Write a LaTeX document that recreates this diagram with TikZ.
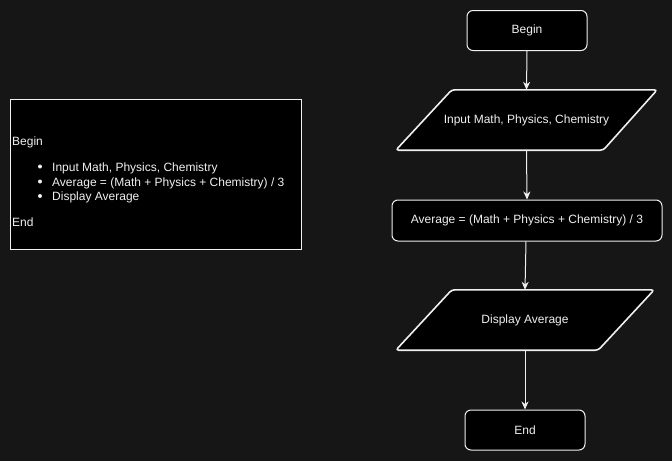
\documentclass[tikz,border=0pt]{standalone}
\usepackage{fontspec}
\setmainfont{Liberation Sans}
\usetikzlibrary{arrows.meta}
\definecolor{bg}{HTML}{161616}
\definecolor{ln}{HTML}{F0F0F0}
\tikzset{
  box/.style={draw=ln, fill=black, line width=1pt, rounded corners=6pt, text=ln, font=\fontsize{12}{14}\selectfont, inner sep=0pt},
  ghost/.style={draw=none, text=ln, font=\fontsize{12}{14}\selectfont, inner sep=0pt},
  para/.style={draw=ln, fill=black, line width=1.6pt, rounded corners=3pt},
  conn/.style={draw=ln, line width=1pt, -{Stealth[length=8pt,width=7pt,inset=2.5pt]}},
  txt/.style={text=ln, font=\fontsize{12}{14}\selectfont, inner sep=0pt, anchor=base west},
  bul/.style={fill=ln, draw=none, circle, inner sep=0pt, minimum size=4pt}
}
\begin{document}
\begin{tikzpicture}[x=1pt,y=-1pt]
\useasboundingbox[fill=bg] (0,0) rectangle (672,461);
% left box
\node[draw=ln, fill=black, line width=1pt, minimum width=291pt, minimum height=150pt, inner sep=0pt] (pseudo) at (155.5,174) {};
\node[txt] (t1) at (12,145) {Begin};
\node[bul] (b1) at (40,166.5) {};
\node[txt] (t2) at (52,171) {Input Math, Physics, Chemistry};
\node[bul] (b2) at (40,181.5) {};
\node[txt] (t3) at (52,186) {Average = (Math + Physics + Chemistry) / 3};
\node[bul] (b3) at (40,196) {};
\node[txt] (t4) at (52,200) {Display Average};
\node[txt] (t5) at (12,226) {End};
% flowchart
\node[box, minimum width=120pt, minimum height=40pt] (begin) at (527,30.5) {Begin};
\node[ghost, minimum width=261pt, minimum height=60pt] (in) at (526.5,120) {};
\draw[para] ([xshift=56pt]in.north west) -- (in.north east) -- ([xshift=-54pt]in.south east) -- (in.south west) -- cycle;
\node[ghost] (intext) at (in.center) {Input Math, Physics, Chemistry};
\node[box, minimum width=270pt, minimum height=41pt] (avg) at (527,220.5) {Average = (Math + Physics + Chemistry) / 3};
\node[ghost, minimum width=258pt, minimum height=60pt] (disp) at (525,320) {};
\draw[para] ([xshift=56pt]disp.north west) -- (disp.north east) -- ([xshift=-56pt]disp.south east) -- (disp.south west) -- cycle;
\node[ghost] (disptext) at (disp.center) {Display Average};
\node[box, minimum width=120pt, minimum height=40pt] (end) at (525,430) {End};
\draw[conn] (begin.south) -- (in.north);
\draw[conn] (in.south) -- (avg.north);
\draw[conn] ([xshift=-1pt]avg.south) -- (disp.north);
\draw[conn] (disp.south) -- (end.north);
\end{tikzpicture}
\end{document}
